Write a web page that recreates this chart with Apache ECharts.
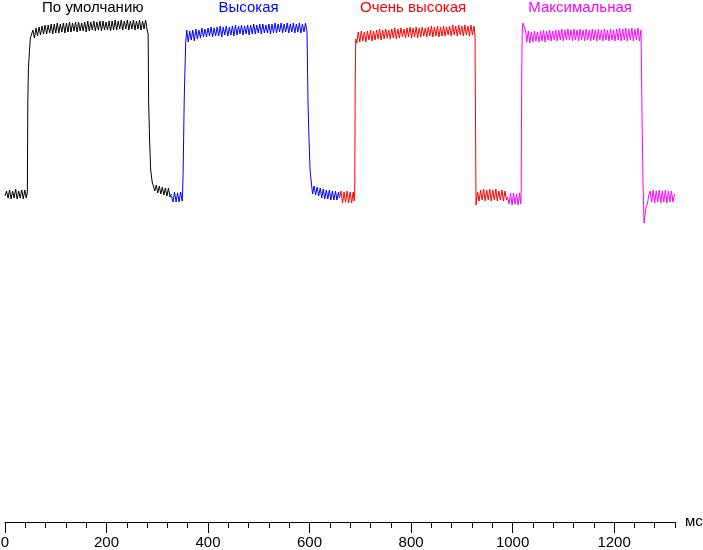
<!DOCTYPE html>
<html>
<head>
<meta charset="utf-8">
<script src="https://cdn.jsdelivr.net/npm/echarts@6/dist/echarts.min.js"></script>
<style>html,body{margin:0;padding:0;background:#fff}#c{width:703px;height:550px}</style>
</head>
<body>
<div id="c"></div>
<script>
// Time in ms, brightness in arbitrary units
const seriesNames = ['По умолчанию', 'Высокая', 'Очень высокая', 'Максимальная'];
const seriesColors = ['#000000', '#0000ff', '#ff0000', '#ff00ff'];
const labelTimes = [173, 480, 804, 1133];
const majorTicks = [0, 200, 400, 600, 800, 1000, 1200];
const axisMax = 1320;

const defaultData = [
[0,326],[3,331],[6,324],[9,332],[12,323],[15,331],[18,324],[21,333],[24,323],[27,331],[30,324],[33,332],[36,323],[39,332],[42,324],
[44,330],[45,420],[46,452],[48,470],[50,484],
[52,486],[55,492],[58,484],[61,494],[64,486],[67,495],[70,487],[73,496],[76,488],[79,497],[82,488],[85,497],[88,489],[91,498],[94,488],[97,498],[100,489],[103,499],[106,489],[109,498],[112,490],[115,499],[118,489],[121,499],[124,490],[127,500],[130,490],[133,499],[136,491],[139,500],[142,490],[145,500],[148,491],[151,499],[154,491],[157,500],[160,490],[163,501],[166,491],[169,500],[172,492],[175,501],[178,491],[181,500],[184,492],[187,501],[190,491],[193,501],[196,492],[199,500],[202,492],[205,501],[208,491],[211,501],[214,492],[217,502],[220,492],[223,501],[226,493],[229,502],[232,492],[235,501],[238,493],[241,502],[244,492],[247,501],[250,493],[253,502],[256,492],[259,501],[262,493],[265,502],[268,492],[271,501],[274,493],[277,502],[280,492],
[282,488],[283,420],[285,380],[287,352],[290,340],
[292,338],[295,331],[298,337],[301,329],[304,336],[307,328],[310,335],[313,327],[316,334],[319,326],[322,334],[325,325],[328,328]
];
const highData = [
[328,326],[331,320],[334,330],[337,320],[340,329],[343,320],[346,330],[349,321],
[350,330],[351,352],[353,420],[354,442],[356,479],
[358,492],[361,480],[364,491],[367,482],[370,492],[373,481],[376,493],[379,483],[382,492],[385,484],[388,494],[391,485],[394,493],[397,485],[400,494],[403,486],[406,495],[409,485],[412,494],[415,486],[418,495],[421,486],[424,496],[427,485],[430,495],[433,487],[436,496],[439,486],[442,495],[445,487],[448,496],[451,486],[454,497],[457,487],[460,496],[463,488],[466,497],[469,487],[472,496],[475,488],[478,497],[481,487],[484,497],[487,488],[490,498],[493,488],[496,497],[499,489],[502,498],[505,488],[508,498],[511,489],[514,497],[517,489],[520,498],[523,488],[526,498],[529,489],[532,499],[535,489],[538,498],[541,490],[544,499],[547,489],[550,498],[553,490],[556,499],[559,489],[562,498],[565,490],[568,499],[571,489],[574,498],[577,490],[580,499],[583,489],[586,498],[589,490],[592,499],[595,490],
[597,419],[599,382],[601,352],[604,337],
[606,328],[609,336],[612,327],[615,335],[618,326],[621,334],[624,324],[627,333],[630,323],[633,332],[636,323],[639,332],[642,322],[645,331],[648,322],[651,331],[654,322],[657,330],[659,324]
];
const veryHighData = [
[659,324],[662,331],[665,319],[668,330],[671,320],[674,331],[677,319],[680,330],[683,319],[686,330],[688,321],
[689,330],[690,440],[691,483],
[693,479],[696,490],[699,480],[702,491],[705,481],[708,490],[711,480],[714,491],[717,482],[720,492],[723,481],[726,491],[729,482],[732,492],[735,483],[738,493],[741,482],[744,492],[747,483],[750,493],[753,484],[756,492],[759,483],[762,493],[765,484],[768,494],[771,483],[774,493],[777,484],[780,494],[783,485],[786,493],[789,484],[792,494],[795,485],[798,495],[801,484],[804,494],[807,485],[810,495],[813,484],[816,494],[819,485],[822,495],[825,486],[828,494],[831,485],[834,495],[837,486],[840,496],[843,485],[846,495],[849,486],[852,496],[855,485],[858,495],[861,486],[864,496],[867,486],[870,495],[873,487],[876,496],[879,486],[882,497],[885,487],[888,496],[891,486],[894,497],[897,487],[900,496],[903,486],[906,497],[909,487],[912,496],[915,486],[918,497],[921,487],[924,496],[926,487],
[927,486],[928,317],
[931,330],[934,321],[937,332],[940,322],[943,333],[946,321],[949,332],[952,322],[955,333],[958,321],[961,332],[964,322],[967,333],[970,321],[973,331],[976,322],[979,332],[982,321],[985,331],[988,322],[990,325]
];
const maxData = [
[990,325],[993,318],[996,329],[999,317],[1002,329],[1005,318],[1008,328],[1011,317],[1014,329],[1016,318],
[1017,330],[1018,450],[1019,490],[1020,499],[1022,499],[1024,494],[1026,490],
[1028,480],[1031,491],[1034,479],[1037,490],[1040,480],[1043,491],[1046,481],[1049,490],[1052,480],[1055,491],[1058,481],[1061,492],[1064,480],[1067,491],[1070,482],[1073,492],[1076,481],[1079,491],[1082,482],[1085,492],[1088,481],[1091,492],[1094,482],[1097,493],[1100,481],[1103,492],[1106,482],[1109,493],[1112,482],[1115,492],[1118,481],[1121,493],[1124,482],[1127,492],[1130,481],[1133,493],[1136,482],[1139,492],[1142,481],[1145,493],[1148,482],[1151,492],[1154,481],[1157,493],[1160,482],[1163,492],[1166,481],[1169,493],[1172,482],[1175,492],[1178,481],[1181,493],[1184,482],[1187,492],[1190,481],[1193,493],[1196,482],[1199,492],[1202,481],[1205,493],[1208,482],[1211,494],[1214,481],[1217,493],[1220,482],[1223,494],[1226,481],[1229,493],[1232,482],[1235,494],[1238,481],[1241,493],[1244,482],[1247,494],[1250,481],[1253,492],
[1255,409],[1257,339],[1259,299],[1261,307],[1263,315],[1266,319],
[1268,326],[1271,331],[1274,320],[1277,332],[1280,319],[1283,331],[1286,320],[1289,332],[1292,319],[1295,331],[1298,320],[1301,332],[1304,319],[1307,331],[1310,320],[1313,331],[1316,320],[1319,328]
];
const allData = [defaultData, highData, veryHighData, maxData];

const FONT = '"Liberation Sans", Arial, sans-serif';
const chart = echarts.init(document.getElementById('c'), null, {renderer: 'canvas'});
const minorTicks = [];
for (let v = 0; v <= axisMax; v += 40) minorTicks.push(v);

chart.setOption({
  animation: false,
  backgroundColor: '#ffffff',
  grid: {left: 5, right: 28, top: 0, bottom: 28, containLabel: false, outerBoundsMode: 'none'},
  xAxis: [{
    type: 'value', min: 0, max: axisMax, position: 'bottom',
    name: 'мс', nameLocation: 'end', nameGap: 10,
    nameTextStyle: {color: '#000', fontSize: 15, fontFamily: FONT, verticalAlign: 'middle'},
    axisLine: {show: true, lineStyle: {color: '#000', width: 1}},
    axisTick: {show: true, customValues: majorTicks, length: 11, lineStyle: {color: '#000', width: 1}},
    axisLabel: {show: true, customValues: majorTicks, color: '#000', fontSize: 15, fontFamily: FONT, margin: 13,
      formatter: v => String(v)},
    splitLine: {show: false}
  }, {
    type: 'value', min: 0, max: axisMax, position: 'bottom', gridIndex: 0,
    axisLine: {show: false},
    axisTick: {show: true, customValues: minorTicks, length: 6, lineStyle: {color: '#000', width: 1}},
    axisLabel: {show: false},
    splitLine: {show: false}
  }],
  yAxis: {type: 'value', min: 0, max: 522, show: false},
  series: allData.map((d, i) => ({
    name: seriesNames[i], type: 'line', data: d, showSymbol: false,
    lineStyle: {color: seriesColors[i], width: 1}, itemStyle: {color: seriesColors[i]},
    xAxisIndex: 0
  }))
});

chart.setOption({
  graphic: seriesNames.map((n, i) => ({
    type: 'text',
    x: chart.convertToPixel({xAxisIndex: 0}, labelTimes[i]),
    y: 0,
    style: {text: n, fill: seriesColors[i], fontSize: 15, fontFamily: FONT, textAlign: 'center', textVerticalAlign: 'top'}
  }))
});
</script>
</body>
</html>
